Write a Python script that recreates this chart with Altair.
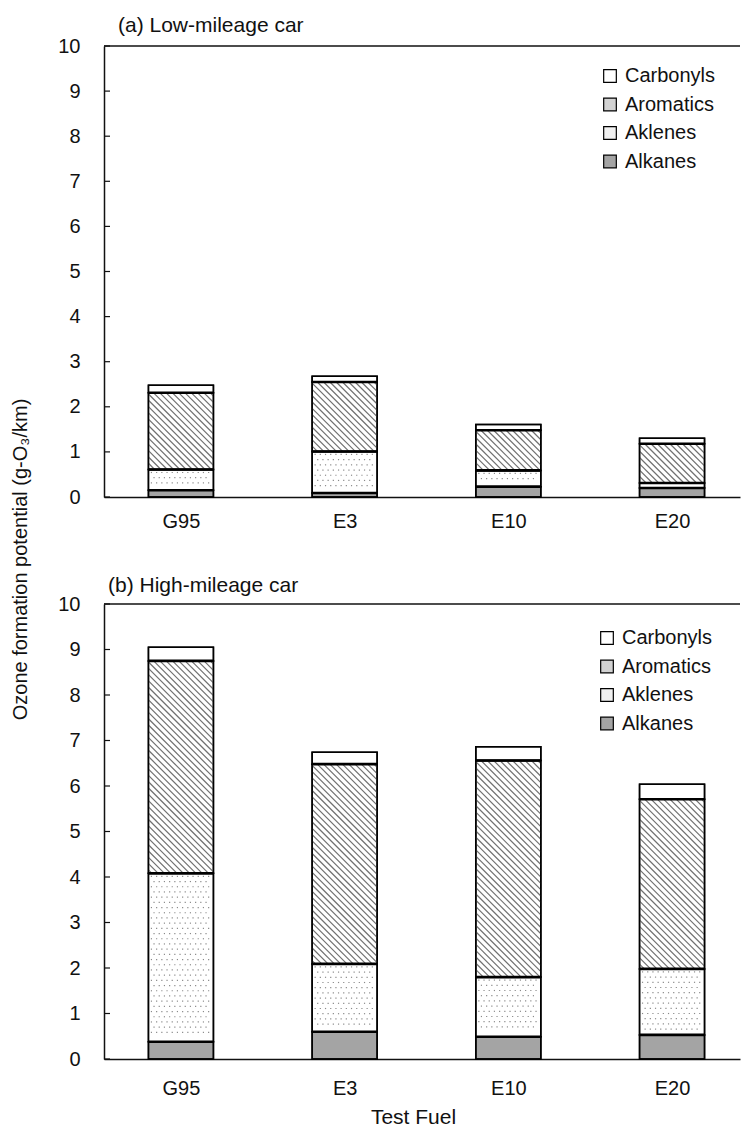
import altair as alt
import pandas as pd

# ---------------- data ----------------
fuels = ["G95", "E3", "E10", "E20"]
components = ["Alkanes", "Aklenes", "Aromatics", "Carbonyls"]      # stacking order (bottom -> top)
legend_order = ["Carbonyls", "Aromatics", "Aklenes", "Alkanes"]

# (a) Low-mileage car  (segment values, g-O3/km)
low_alkanes = [0.15, 0.09, 0.23, 0.20]
low_alkenes = [0.46, 0.92, 0.36, 0.11]
low_aromatics = [1.70, 1.54, 0.89, 0.87]
low_carbonyls = [0.17, 0.13, 0.13, 0.12]

# (b) High-mileage car
high_alkanes = [0.38, 0.60, 0.49, 0.53]
high_alkenes = [3.70, 1.49, 1.31, 1.45]
high_aromatics = [4.67, 4.39, 4.76, 3.73]
high_carbonyls = [0.30, 0.26, 0.30, 0.33]

y_ticks = [0, 1, 2, 3, 4, 5, 6, 7, 8, 9, 10]

# ---------------- style / layout ----------------
FONT = "Liberation Sans"
INK = "#111111"
PLOT_W = 636
STEP_PX = 163.7
X_MIN = -0.47
X_MAX = X_MIN + PLOT_W / STEP_PX
BAR_W = 65.0
HALF = BAR_W / 2 / STEP_PX
HATCH_S = 6.3
DOT_S = 5.2

fill_range = ["#ffffff", "#d2d2d2", "#f1f1f1", "#a4a4a4"]   # legend colours
label_expr = "[" + ",".join("'%s'" % f for f in fuels) + "][datum.value]"


def panel(vals, title, title_dx, title_offset, height, legend_xy, label_pad,
          y_title=None, x_title=None):
    rows = []
    for i, f in enumerate(fuels):
        for j, c in enumerate(components):
            rows.append({"fuel": f, "idx": i, "component": c, "order": j,
                         "value": vals[c][i]})
    df = pd.DataFrame(rows)
    px_y = height / 10.0

    xscale = alt.Scale(domain=[X_MIN, X_MAX], nice=False, zero=False)
    yscale = alt.Scale(domain=[0, 10], nice=False)

    xkw = dict(values=list(range(len(fuels))), labelExpr=label_expr, ticks=False,
               grid=False, domainColor=INK, domainWidth=1.5, labelFontSize=20,
               labelFont=FONT, labelColor=INK, labelPadding=label_pad,
               labelBaseline="top", labelFlush=False, labelOverlap=False)
    if x_title:
        xkw.update(titleFontSize=21, titleFont=FONT, titleFontWeight="normal",
                   titleColor=INK, titleX=309, titleY=47, titleAlign="center",
                   titleBaseline="top")
    xaxis = alt.Axis(**xkw)

    ykw = dict(values=y_ticks, ticks=False, grid=False, domainColor=INK,
               domainWidth=1.5, labelFontSize=20, labelFont=FONT, labelColor=INK,
               labelPadding=24)
    if y_title:
        ykw.update(titleFontSize=20, titleFont=FONT, titleFontWeight="normal",
                   titleColor=INK, titleAngle=270, titleX=-84, titleY=513,
                   titleAlign="center", titleBaseline="middle")
    yaxis = alt.Axis(**ykw)

    def X(f):
        return alt.X(f + ":Q", scale=xscale, axis=xaxis, title=x_title)

    def Y(f):
        return alt.Y(f + ":Q", scale=yscale, axis=yaxis, title=y_title)

    base = alt.Chart(df).transform_stack(
        stack="value", groupby=["fuel"], as_=["y0", "y1"],
        sort=[alt.SortField("order", "ascending")]
    ).transform_calculate(
        xl="datum.idx - %f" % HALF, xr="datum.idx + %f" % HALF
    )

    bars = base.mark_rect(stroke="black", strokeWidth=1.5).encode(
        x=X("xl"), x2="xr:Q", y=Y("y0"), y2="y1:Q",
        fill=alt.condition(
            "datum.component === 'Aromatics' || datum.component === 'Aklenes'",
            alt.value("white"),
            alt.Fill("component:N",
                     scale=alt.Scale(domain=legend_order, range=fill_range),
                     legend=alt.Legend(title=None, orient="none",
                                       legendX=legend_xy[0], legendY=legend_xy[1],
                                       symbolType="square", symbolSize=160,
                                       symbolStrokeColor="black",
                                       symbolStrokeWidth=1.2, symbolOpacity=1,
                                       labelFontSize=20, labelFont=FONT,
                                       labelColor=INK, rowPadding=8.5,
                                       labelOffset=5, padding=0)),
        ),
    )

    # diagonal hatching of the aromatics segments
    hatch = base.transform_filter(
        "datum.component === 'Aromatics'"
    ).transform_calculate(
        h="(datum.y1 - datum.y0) * %f" % px_y,
        k="sequence(0, ceil((%f + (datum.y1 - datum.y0) * %f) / %f) + 1)"
          % (BAR_W, px_y, HATCH_S),
    ).transform_flatten(["k"]).transform_calculate(
        c="datum.k * %f - %f + %f" % (HATCH_S, BAR_W, HATCH_S / 2),
    ).transform_calculate(
        xa="max(0, -datum.c)",
        xb="min(%f, datum.h - datum.c)" % BAR_W,
    ).transform_filter("datum.xb > datum.xa + 0.5").transform_calculate(
        hx1="datum.xl + datum.xa / %f" % STEP_PX,
        hx2="datum.xl + datum.xb / %f" % STEP_PX,
        hy1="datum.y1 - (datum.xa + datum.c) / %f" % px_y,
        hy2="datum.y1 - (datum.xb + datum.c) / %f" % px_y,
    ).mark_rule(color="#707070", strokeWidth=1.2).encode(
        x=X("hx1"), x2="hx2:Q", y=Y("hy1"), y2="hy2:Q"
    )

    # stipple of the alkenes segments
    ncols = int(BAR_W // DOT_S)
    dots = base.transform_filter(
        "datum.component === 'Aklenes'"
    ).transform_calculate(
        h="(datum.y1 - datum.y0) * {}".format(px_y),
        col="sequence(0, {})".format(ncols),
    ).transform_flatten(["col"]).transform_calculate(
        row="sequence(0, floor((datum.h - 3) / {}))".format(DOT_S),
    ).transform_flatten(["row"]).transform_calculate(
        dxp="3 + datum.col * {} + (datum.row % 2) * {}".format(DOT_S, DOT_S / 2),
        dyp="3 + datum.row * {}".format(DOT_S),
    ).transform_filter(
        "datum.dxp < {} && datum.dyp < datum.h - 2".format(BAR_W - 2.5)
    ).transform_calculate(
        px="datum.xl + datum.dxp / {}".format(STEP_PX),
        py="datum.y1 - datum.dyp / {}".format(px_y),
    ).mark_square(size=1.4, color="#8a8a8a", opacity=1).encode(
        x=X("px"), y=Y("py")
    )

    outline = base.mark_rect(fillOpacity=0, stroke="black", strokeWidth=1.5).encode(
        x=X("xl"), x2="xr:Q", y=Y("y0"), y2="y1:Q"
    )

    bounds = base.transform_filter("datum.component !== 'Carbonyls'").mark_rule(
        color="black", strokeWidth=2.6
    ).encode(x=X("xl"), x2="xr:Q", y=Y("y1"))

    tick_df = pd.DataFrame({"t": y_ticks})
    ticks = alt.Chart(tick_df).mark_rule(color=INK, strokeWidth=1.2).encode(
        y=Y("t"), x=alt.value(0), x2=alt.value(6)
    )
    topline = alt.Chart(pd.DataFrame({"t": [max(y_ticks)]})).mark_rule(
        color=INK, strokeWidth=1.5
    ).encode(y=Y("t"), x=alt.value(0), x2=alt.value(PLOT_W))

    return alt.layer(bars, hatch, dots, outline, bounds, ticks, topline).properties(
        width=PLOT_W, height=height,
        title=alt.TitleParams(title, anchor="start", dx=title_dx, offset=title_offset,
                              fontSize=21, font=FONT, fontWeight="normal",
                              baseline="alphabetic", frame="group", color=INK),
    )


low = {"Alkanes": low_alkanes, "Aklenes": low_alkenes,
       "Aromatics": low_aromatics, "Carbonyls": low_carbonyls}
high = {"Alkanes": high_alkanes, "Aklenes": high_alkenes,
        "Aromatics": high_aromatics, "Carbonyls": high_carbonyls}

top = panel(low, "(a) Low-mileage car", 14, -17, 451, (496, 20), 14,
            y_title="Ozone formation potential (g-O\u2083/km)")
bottom = panel(high, "(b) High-mileage car", 4, -19, 455, (493, 24), 19,
               x_title="Test Fuel")

chart = alt.vconcat(top, bottom, spacing=107, bounds="flush").resolve_scale(
    fill="independent"
).configure(font=FONT).configure_view(stroke=None).properties(
    padding={"top": 7, "left": 2, "right": 0, "bottom": 0}
)

chart.save("out.html", embed_options={"renderer": "svg", "actions": False})
